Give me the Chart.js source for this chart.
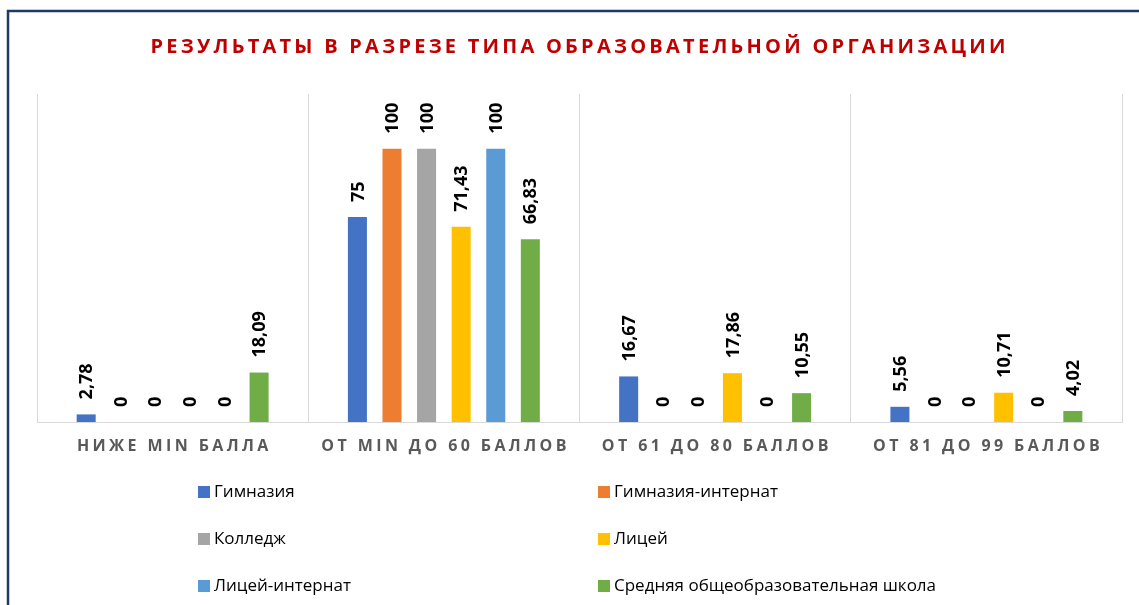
<!DOCTYPE html>
<html>
<head>
<meta charset="utf-8">
<script src="https://cdn.jsdelivr.net/npm/chart.js@4"></script>
<style>
  html, body { margin: 0; padding: 0; background: #fff; overflow: hidden; }
  canvas { display: block; }
</style>
</head>
<body>
<canvas id="resultsChart" width="1139" height="605"></canvas>
<script>
// Chart data
const chartTitle = 'РЕЗУЛЬТАТЫ В РАЗРЕЗЕ ТИПА ОБРАЗОВАТЕЛЬНОЙ ОРГАНИЗАЦИИ';
const categories = ['НИЖЕ MIN БАЛЛА', 'ОТ MIN ДО 60 БАЛЛОВ', 'ОТ 61 ДО 80 БАЛЛОВ', 'ОТ 81 ДО 99 БАЛЛОВ'];
const seriesNames = ['Гимназия', 'Гимназия-интернат', 'Колледж', 'Лицей', 'Лицей-интернат', 'Средняя общеобразовательная школа'];

const gymnasium = [2.78, 75, 16.67, 5.56];
const gymnasiumBoarding = [0, 100, 0, 0];
const college = [0, 100, 0, 0];
const lyceum = [0, 71.43, 17.86, 10.71];
const lyceumBoarding = [0, 100, 0, 0];
const secondarySchool = [18.09, 66.83, 10.55, 4.02];

const seriesValues = [gymnasium, gymnasiumBoarding, college, lyceum, lyceumBoarding, secondarySchool];
const seriesColors = ['#4472C4', '#ED7D31', '#A5A5A5', '#FFC000', '#5B9BD5', '#70AD47'];

const FONT = "'Open Sans', 'Noto Sans', sans-serif";

// Draw text with extra space between letters, centered on cx
function drawSpacedText(ctx, text, cx, cy, spacing) {
    const chars = Array.from(text);
    const widths = chars.map(ch => ctx.measureText(ch).width);
    const total = widths.reduce((a, b) => a + b, 0) + spacing * (chars.length - 1);
    let x = cx - total / 2;
    ctx.textAlign = 'left';
    ctx.textBaseline = 'middle';
    chars.forEach((ch, i) => {
        ctx.fillText(ch, x, cy);
        x += widths[i] + spacing;
    });
}

function formatValue(v) {
    return String(v).replace('.', ',');
}

const decorPlugin = {
    id: 'decor',
    beforeDraw(chart) {
        const ctx = chart.ctx;
        ctx.save();
        ctx.fillStyle = '#ffffff';
        ctx.fillRect(0, 0, chart.width, chart.height);
        ctx.strokeStyle = '#203864';
        ctx.lineWidth = 2.5;
        ctx.strokeRect(8, 11, 1300, 800);
        ctx.restore();
    },
    afterDatasetsDraw(chart) {
        // value labels above the bars, rotated
        const ctx = chart.ctx;
        ctx.save();
        ctx.fillStyle = '#000000';
        ctx.font = 'bold 18px ' + FONT;
        chart.data.datasets.forEach((ds, di) => {
            const meta = chart.getDatasetMeta(di);
            meta.data.forEach((bar, i) => {
                ctx.save();
                ctx.translate(bar.x + 1, bar.y - 15);
                ctx.rotate(-Math.PI / 2);
                ctx.textAlign = 'left';
                ctx.textBaseline = 'middle';
                ctx.fillText(formatValue(ds.data[i]), 0, 0);
                ctx.restore();
            });
        });
        ctx.restore();
    },
    afterDraw(chart) {
        const ctx = chart.ctx;
        ctx.save();

        // title
        ctx.fillStyle = '#C00000';
        ctx.font = 'bold 20px ' + FONT;
        drawSpacedText(ctx, chartTitle, 578, 47, 3.25);

        // category labels
        const xScale = chart.scales.x;
        ctx.fillStyle = '#595959';
        ctx.font = 'bold 16px ' + FONT;
        chart.data.labels.forEach((label, i) => {
            drawSpacedText(ctx, label, xScale.getPixelForTick(i), 446, 3.4);
        });

        // legend in two columns
        ctx.font = '17px ' + FONT;
        ctx.textAlign = 'left';
        ctx.textBaseline = 'middle';
        const colX = [198, 598];
        const rowY = [492, 539, 586];
        chart.data.datasets.forEach((ds, i) => {
            const x = colX[i % 2];
            const y = rowY[Math.floor(i / 2)];
            ctx.fillStyle = ds.backgroundColor;
            ctx.fillRect(x, y - 6, 12, 12);
            ctx.fillStyle = '#000000';
            ctx.fillText(ds.label, x + 16, y);
        });

        ctx.restore();
    }
};

document.addEventListener('DOMContentLoaded', function() {
    const ctx = document.getElementById('resultsChart').getContext('2d');
    new Chart(ctx, {
        type: 'bar',
        data: {
            labels: categories,
            datasets: seriesNames.map((name, i) => ({
                label: name,
                data: seriesValues[i],
                backgroundColor: seriesColors[i],
                borderWidth: 0,
                categoryPercentage: 0.765,
                barPercentage: 0.55
            }))
        },
        options: {
            responsive: false,
            animation: false,
            layout: {
                padding: { left: 37, right: 17, top: 94, bottom: 183 }
            },
            plugins: {
                legend: { display: false },
                title: { display: false },
                tooltip: { enabled: false }
            },
            scales: {
                x: {
                    ticks: { display: false },
                    grid: {
                        color: '#d9d9d9',
                        lineWidth: 1,
                        drawTicks: false,
                        offset: true
                    },
                    border: { display: true, color: '#d9d9d9', width: 1 }
                },
                y: {
                    display: false,
                    min: 0,
                    max: 120
                }
            }
        },
        plugins: [decorPlugin]
    });
});
</script>
</body>
</html>
